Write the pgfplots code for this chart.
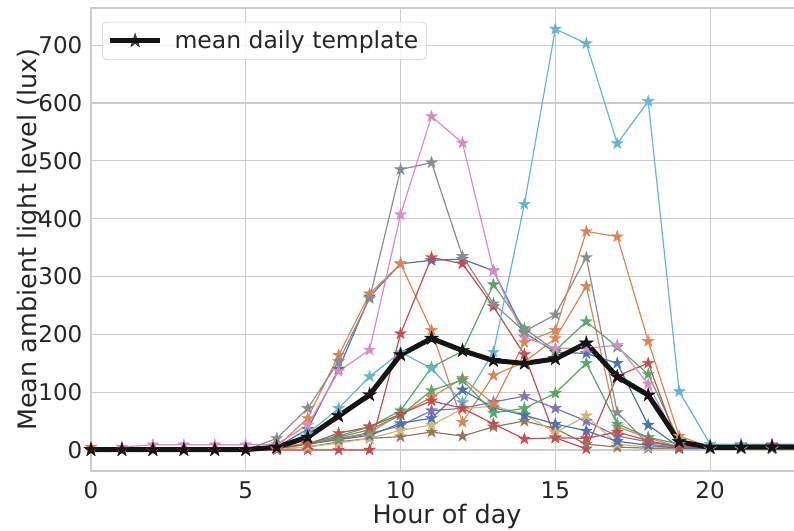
\documentclass[border=0pt]{standalone}
\usepackage{pgfplots}
\pgfplotsset{compat=1.18}
\usepackage{pgfplotstable}
\usepackage{fontspec}
\setmainfont{DejaVu Sans}

\definecolor{sbblue}{HTML}{4C72B0}
\definecolor{sborange}{HTML}{DD8452}
\definecolor{sbgreen}{HTML}{55A868}
\definecolor{sbred}{HTML}{C44E52}
\definecolor{sbpurple}{HTML}{8172B3}
\definecolor{sbbrown}{HTML}{937860}
\definecolor{sbpink}{HTML}{DA8BC3}
\definecolor{sbgray}{HTML}{8C8C8C}
\definecolor{sbolive}{HTML}{CCB974}
\definecolor{sbcyan}{HTML}{64B5CD}
\definecolor{txt}{HTML}{262626}
\definecolor{gridc}{HTML}{CCCCCC}

% filled five-pointed star, like matplotlib's '*'
\pgfdeclareplotmark{fstar}{%
  \pgfmathsetlengthmacro\rin{0.382*\pgfplotmarksize}%
  \pgfpathmoveto{\pgfpointpolar{90}{\pgfplotmarksize}}%
  \pgfpathlineto{\pgfpointpolar{126}{\rin}}%
  \pgfpathlineto{\pgfpointpolar{162}{\pgfplotmarksize}}%
  \pgfpathlineto{\pgfpointpolar{198}{\rin}}%
  \pgfpathlineto{\pgfpointpolar{234}{\pgfplotmarksize}}%
  \pgfpathlineto{\pgfpointpolar{270}{\rin}}%
  \pgfpathlineto{\pgfpointpolar{306}{\pgfplotmarksize}}%
  \pgfpathlineto{\pgfpointpolar{342}{\rin}}%
  \pgfpathlineto{\pgfpointpolar{18}{\pgfplotmarksize}}%
  \pgfpathlineto{\pgfpointpolar{54}{\rin}}%
  \pgfpathclose
  \pgfusepathqfillstroke}

% one day per column, hour in h, mean in mn
\pgfplotstableread{
h  b1  o1  g1  r1  pu  br  pk  gy  ol  cy  b2  o2  g2  r2  mn
0  0   5   0   0   0   0   0   0   0   0   0   0   0   0   0.5
1  0   0   0   0   0   0   5   0   0   0   0   0   0   0   0.4
2  0   0   0   0   0   0   9   0   0   0   0   0   0   0   0.6
3  0   0   0   0   0   0   9   0   0   0   0   0   0   0   0.6
4  0   0   0   0   0   0   9   0   0   0   0   0   0   0   0.6
5  0   0   0   0   0   0   9   0   0   0   0   0   0   0   0.6
6  5   5   3   0   3   2   10  20  2   5   3   3   3   3   4.8
7  36  55  12  0   10  5   43  72  5   28  10  12  10  10  22
8  140 164 24  0   19  14  136 153 12  72  18  20  22  29  58.8
9  265 270 40  0   28  20  173 262 20  127 25  30  35  40  95.4
10 322 322 68  201 42  23  407 485 34  169 46  62  60  62  164.5
11 328 207 143 333 68  31  577 497 43  141 55  91  103 85  193
12 330 48  171 322 72  24  531 335 71  82  104 124 121 72  171.9
13 310 129 286 248 83  40  310 253 76  169 73  80  64  45  154.7
14 203 152 210 165 93  50  195 205 62  425 60  186 72  19  149.8
15 169 193 172 21  72  37  176 234 30  728 45  207 98  21  157.4
16 167 283 222 2   50  10  176 333 59  703 33  378 150 20  184.7
17 150 40  178 128 24  5   181 65  10  530 15  369 45  31  126.5
18 43  21  131 150 14  3   114 10  5   603 8   188 22  16  94.9
19 5   5   16  5   5   2   10  5   3   101 3   24  10  5   14.2
20 5   3   5   3   3   2   5   5   2   10  3   5   5   5   4.4
21 8   3   5   5   3   2   5   5   2   10  3   5   5   5   4.7
22 8   3   5   8   3   2   5   5   2   10  3   5   5   8   5.1
23 8   3   5   8   3   2   5   5   2   10  3   5   5   8   5.1
}\daily

\pgfplotsset{
  day/.style={color=#1, line width=0.9pt, mark=fstar, mark size=4.6pt,
    mark options={solid, fill=#1, line width=0.3pt}, forget plot},
}

\begin{document}
\begin{tikzpicture}
\path[use as bounding box] (-68.25pt,-45pt) rectangle (527.25pt,353.25pt);
\begin{axis}[
  at={(0,0)}, anchor=south west, scale only axis,
  width=534pt, height=347.25pt,
  xmin=0, xmax=23, ymin=-36.4, ymax=764.4,
  xtick={0,5,10,15,20},
  ytick={0,100,...,700},
  grid=major,
  major grid style={gridc, line width=0.9pt},
  axis line style={gridc, line width=1pt},
  major tick length=0pt,
  tick label style={font=\fontsize{17.25}{20}\selectfont, text=txt},
  /pgf/number format/assume math mode=true,
  xticklabel style={yshift=-4.5pt},
  yticklabel style={xshift=-3pt},
  label style={font=\fontsize{19.1}{23}\selectfont, text=txt},
  xlabel={Hour of day},
  ylabel={Mean ambient light level (lux)},
  xlabel style={at={(axis description cs:0.5,-0.0985)}, anchor=center},
  ylabel style={at={(axis description cs:-0.0862,0.5)}, anchor=center},
  clip=true,
  legend style={at={(axis description cs:0.0155,0.97)}, anchor=north west,
    draw=gridc, rounded corners=3pt, fill=white, fill opacity=0.8, text opacity=1,
    font=\fontsize{17.6}{20}\selectfont, text=txt, inner xsep=4pt, inner ysep=4.5pt,
    /tikz/every odd column/.append style={column sep=7pt}},
  legend cell align=left,
  legend image code/.code={%
    \draw[mark repeat=2, mark phase=2, #1] plot coordinates {(0pt,0pt) (18.75pt,0pt) (37.5pt,0pt)};},
]
\addplot[day=sbblue]   table[x=h, y=b1] {\daily};
\addplot[day=sborange] table[x=h, y=o1] {\daily};
\addplot[day=sbgreen]  table[x=h, y=g1] {\daily};
\addplot[day=sbred]    table[x=h, y=r1] {\daily};
\addplot[day=sbpurple] table[x=h, y=pu] {\daily};
\addplot[day=sbbrown]  table[x=h, y=br] {\daily};
\addplot[day=sbpink]   table[x=h, y=pk] {\daily};
\addplot[day=sbgray]   table[x=h, y=gy] {\daily};
\addplot[day=sbolive]  table[x=h, y=ol] {\daily};
\addplot[day=sbcyan]   table[x=h, y=cy] {\daily};
\addplot[day=sbblue]   table[x=h, y=b2] {\daily};
\addplot[day=sborange] table[x=h, y=o2] {\daily};
\addplot[day=sbgreen]  table[x=h, y=g2] {\daily};
\addplot[day=sbred]    table[x=h, y=r2] {\daily};
\addplot[color=black!92, line width=3.75pt, mark=fstar, mark size=5.5pt,
  mark options={solid, fill=black!92, line width=0.3pt}]
  table[x=h, y=mn] {\daily};
\addlegendentry{mean daily template}
\end{axis}
\end{tikzpicture}
\end{document}
